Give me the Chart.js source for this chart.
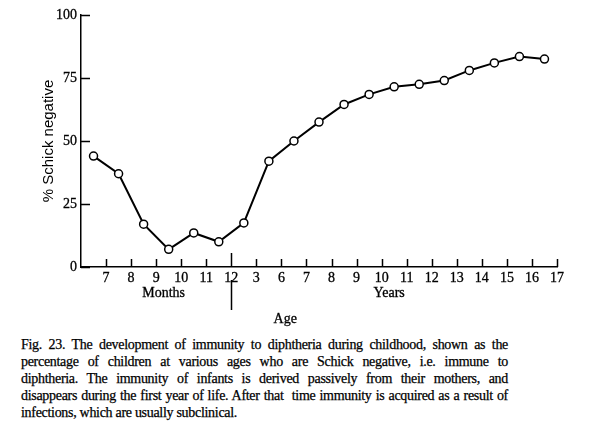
<!DOCTYPE html>
<html>
<head>
<meta charset="utf-8">
<script src="https://cdn.jsdelivr.net/npm/chart.js@4/dist/chart.umd.min.js"></script>
<style>
  body { margin: 0; background: #fff; }
  #wrap { position: relative; width: 602px; height: 429px; }
  #chartBox { position: absolute; left: 0; top: 0; width: 602px; height: 330px; }
  #caption {
    position: absolute; left: 21px; top: 336px; width: 487px; margin: 0;
    font-family: "Liberation Serif", "DejaVu Serif", serif; font-size: 14px;
    letter-spacing: -0.3px; line-height: 17px; color: #000;
    -webkit-text-stroke: 0.25px #000;
  }
  #caption span { display: block; white-space: nowrap; text-align: justify; text-align-last: justify; }
  #caption span.last { text-align-last: left; }
</style>
</head>
<body>
<div id="wrap">
  <div id="chartBox"><canvas id="immunityChart" width="602" height="330"></canvas></div>
  <p id="caption">
    <span>Fig. 23. The development of immunity to diphtheria during childhood, shown as the</span>
    <span>percentage of children at various ages who are Schick negative, i.e. immune to</span>
    <span>diphtheria. The immunity of infants is derived passively from their mothers, and</span>
    <span>disappears during the first year of life. After that&nbsp; time immunity is acquired as a result of</span>
    <span class="last">infections, which are usually subclinical.</span>
  </p>
</div>
<script>
// tick labels at the boundaries 1..19 (months 7-12, then years)
const xTickLabels = ['7', '8', '9', '10', '11', '12', '3', '6', '7', '8', '9', '10', '11', '12', '13', '14', '15', '16', '17'];
// % Schick negative, one value per age interval
const schickNegative = [44, 37, 17, 7, 13.5, 10, 17.5, 42, 50, 57.5, 64.5, 68.5, 71.5, 72.5, 74, 78, 81, 83.5, 82.5];
const yTicks = [0, 25, 50, 75, 100];
const groupLabels = ['Months', 'Years'];
const ageLabel = 'Age';
const yTitle = '% Schick negative';

const serif = '"Liberation Serif", "DejaVu Serif", serif';

// draw inward ticks, the long "12" marker and the group labels
const axisExtras = {
    id: 'axisExtras',
    afterDraw(chart) {
        const ctx = chart.ctx;
        const x = chart.scales.x, y = chart.scales.y;
        const left = chart.chartArea.left, bottom = chart.chartArea.bottom;
        ctx.save();
        ctx.strokeStyle = '#000';
        ctx.lineWidth = 1.5;
        ctx.beginPath();
        yTicks.forEach(function(v) {
            const py = Math.round(y.getPixelForValue(v)) + 0.5;
            ctx.moveTo(left, py);
            ctx.lineTo(left + 9, py);
        });
        for (let i = 1; i <= xTickLabels.length; i++) {
            const px = Math.round(x.getPixelForValue(i)) + 0.5;
            ctx.moveTo(px, bottom);
            ctx.lineTo(px, bottom - (i === 6 ? 14 : 8));
        }
        // months / years divider below the axis
        const p12 = Math.round(x.getPixelForValue(6)) + 0.5;
        ctx.moveTo(p12, bottom + 13);
        ctx.lineTo(p12, bottom + 43);
        ctx.stroke();

        ctx.fillStyle = '#000';
        ctx.strokeStyle = '#000';
        ctx.lineWidth = 0.3;
        ctx.font = '14px ' + serif;
        ctx.textAlign = 'center';
        ctx.textBaseline = 'middle';
        [[groupLabels[0], 3.3, 26], [groupLabels[1], 12.3, 26], [ageLabel, 8.15, 52]].forEach(function(t) {
            const px = x.getPixelForValue(t[1]);
            ctx.fillText(t[0], px, bottom + t[2]);
            ctx.strokeText(t[0], px, bottom + t[2]);
        });
        ctx.restore();
    }
};

const ctx = document.getElementById('immunityChart').getContext('2d');
const immunityChart = new Chart(ctx, {
    type: 'line',
    data: {
        datasets: [{
            data: schickNegative.map(function(v, i) { return { x: i + 0.5, y: v }; }),
            borderColor: '#000',
            borderWidth: 2,
            backgroundColor: '#fff',
            pointBackgroundColor: '#fff',
            pointBorderColor: '#000',
            pointBorderWidth: 1.5,
            pointRadius: 4,
            tension: 0
        }]
    },
    options: {
        responsive: false,
        animation: false,
        layout: { padding: { left: 0, right: 45, top: 15, bottom: 0 } },
        plugins: { legend: { display: false }, tooltip: { enabled: false } },
        scales: {
            x: {
                type: 'linear',
                min: 0,
                max: xTickLabels.length,
                grid: { display: false, drawTicks: false, tickLength: 0 },
                border: { display: true, color: '#000', width: 1.5 },
                ticks: {
                    stepSize: 1,
                    autoSkip: false,
                    maxRotation: 0,
                    padding: 3,
                    color: '#000',
                    textStrokeColor: '#000',
                    textStrokeWidth: 0.3,
                    font: { family: serif, size: 14 },
                    callback: function(v) { return v >= 1 ? xTickLabels[v - 1] : ''; }
                },
                afterFit: function(scale) { scale.height = 63; }
            },
            y: {
                min: 0,
                max: 100,
                grid: { display: false, drawTicks: false, tickLength: 0 },
                border: { display: true, color: '#000', width: 1.5 },
                ticks: {
                    stepSize: 25,
                    padding: 4,
                    color: '#000',
                    textStrokeColor: '#000',
                    textStrokeWidth: 0.3,
                    font: { family: serif, size: 14 }
                },
                title: {
                    display: true,
                    text: yTitle,
                    color: '#000',
                    font: { family: '"Liberation Sans", Arial, sans-serif', size: 15 },
                    padding: { top: 40, bottom: 0 }
                },
                afterFit: function(scale) { scale.width = 81; }
            }
        }
    },
    plugins: [axisExtras]
});
</script>
</body>
</html>
